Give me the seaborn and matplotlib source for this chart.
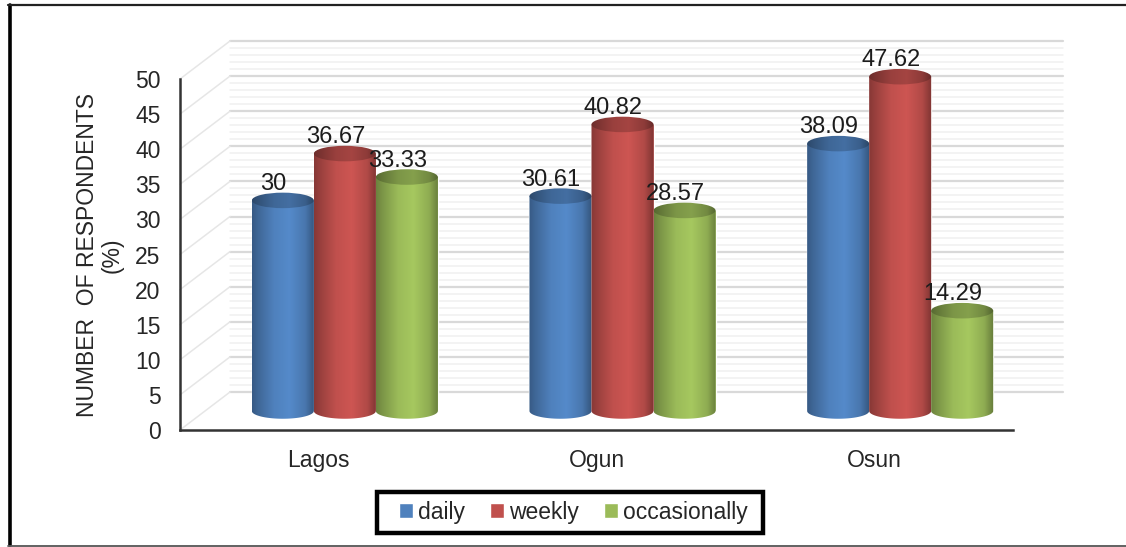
import numpy as np
import pandas as pd
import matplotlib
matplotlib.use("Agg")
import matplotlib.pyplot as plt
from matplotlib.colors import LinearSegmentedColormap, to_rgb
from matplotlib.patches import Ellipse, Polygon, Rectangle
from matplotlib.transforms import Affine2D, IdentityTransform
import seaborn as sns

states = ["Lagos", "Ogun", "Osun"]
frequency = ["daily", "weekly", "occasionally"]
daily = [30, 30.61, 38.09]
weekly = [36.67, 40.82, 47.62]
occasionally = [33.33, 28.57, 14.29]
palette = ["#4f81bd", "#c0504d", "#9bbb59"]

W, H = 1126, 547
FONT = 16.5
sns.set_theme(style="white")
plt.rcParams["font.family"] = ["Liberation Sans", "DejaVu Sans"]

table = pd.DataFrame({
    "state": states * 3,
    "frequency": np.repeat(frequency, 3),
    "percent": daily + weekly + occasionally,
})

fig = plt.figure(figsize=(W / 100, H / 100), dpi=100, facecolor="white")
ax = fig.add_axes([180 / W, 1 - 430 / H, 833 / W, 351 / H])

sns.barplot(data=table, x="state", y="percent", hue="frequency",
            order=states, hue_order=frequency, palette=palette, saturation=1,
            width=0.67, gap=0, errorbar=None, legend=True, ax=ax, zorder=3)
ax.set_ylim(0, 50)
ax.set_xlim(-0.5, 2.5)

# The chart is a pseudo-3D box: bars stand mid-way along the floor, the wall at the back.
mid_plane = ax.transData + Affine2D().translate(26, 19)
back_wall = ax.transData + Affine2D().translate(50, 38)

units_per_px = 50 / 351
cap_height = 15.5 * units_per_px


def rgb_scale(color, factor):
    return tuple(min(1, c * factor) for c in to_rgb(color))


def shaded(color, dim=1.0):
    stops = [(0.0, 0.7), (0.1, 0.8), (0.35, 1.0), (0.6, 1.07), (0.85, 0.92), (1.0, 0.66)]
    return LinearSegmentedColormap.from_list(
        "cyl", [(p, rgb_scale(color, f * dim)) for p, f in stops])


ramp = np.linspace(0, 1, 128).reshape(1, -1)

for level in range(0, 51):
    major = level % 5 == 0
    ax.plot([-0.5, 2.5], [level, level], transform=back_wall, clip_on=False, zorder=1,
            color="#d9d9d9" if major else "#f0f0f0", lw=1.6 if major else 1.1)
    if major:
        x0, y0 = ax.transData.transform((-0.5, level))
        ax.add_line(plt.Line2D([x0, x0 + 50], [y0, y0 + 38], transform=IdentityTransform(),
                               color="#e6e6e6", lw=1.1, zorder=1, clip_on=False))

bars = sorted(
    [p for p in ax.patches if isinstance(p, Rectangle) and p.get_height() > 0],
    key=lambda p: p.get_x(),
)
theta = np.linspace(np.pi, 2 * np.pi, 60)
for n, bar in enumerate(bars):
    x0, w, v = bar.get_x(), bar.get_width(), bar.get_height()
    colour = bar.get_facecolor()
    bar.set_transform(mid_plane)
    bar.set_clip_on(False)
    cx = x0 + w / 2
    rim_x = cx + w / 2 * np.cos(theta)
    rim_y = cap_height / 2 * np.sin(theta)
    outline = np.column_stack([np.r_[x0, rim_x, x0 + w], np.r_[v, rim_y, v]])
    clip = Polygon(outline, closed=True, transform=mid_plane)
    z = 4 + n * 0.01
    body = ax.imshow(ramp, extent=(x0, x0 + w, -cap_height, v), aspect="auto",
                     cmap=shaded(colour), transform=mid_plane, zorder=z,
                     interpolation="bilinear")
    body.set_clip_box(fig.bbox)
    body.set_clip_path(clip)
    cap = Ellipse((cx, v), w, cap_height, transform=mid_plane)
    top = ax.imshow(ramp, extent=(x0, x0 + w, v - cap_height, v + cap_height), aspect="auto",
                    cmap=shaded(colour, 0.8), transform=mid_plane, zorder=z + 0.001,
                    interpolation="bilinear")
    top.set_clip_box(fig.bbox)
    top.set_clip_path(cap)
    ax.annotate(f"{v:g}", (cx, v), xycoords=mid_plane, xytext=(-9.5, 16.5),
                textcoords="offset pixels", ha="center", va="center",
                fontsize=17, color="#1c1c1c", zorder=6, annotation_clip=False)

ax.set_xlim(-0.5, 2.5)
ax.set_ylim(0, 50)
ax.set_yticks(range(0, 51, 5))
ax.set_xlabel("")
ax.set_ylabel("NUMBER  OF RESPONDENTS\n(%)", fontsize=FONT, color="#262626",
              linespacing=1.08, va="center")
ax.yaxis.set_label_coords((99.5 - 180) / 833, (430 - 255) / 351)
ax.tick_params(axis="y", length=0, pad=14, labelsize=FONT, labelcolor="#262626")
ax.tick_params(axis="x", length=0, pad=14, labelsize=FONT, labelcolor="#262626")
for side in ("top", "right"):
    ax.spines[side].set_visible(False)
for side in ("left", "bottom"):
    ax.spines[side].set_color("#333333")
    ax.spines[side].set_linewidth(1.8)
ax.patch.set_alpha(0)

sns.move_legend(ax, "center", bbox_to_anchor=(573.5 / W, 1 - 512 / H),
                bbox_transform=fig.transFigure, ncol=3, title=None, frameon=False,
                fontsize=FONT, handlelength=0.62, handleheight=0.62, handletextpad=0.2,
                columnspacing=1.1, borderpad=0.42, borderaxespad=0)
for text in ax.get_legend().get_texts():
    text.set_color("#262626")

# Legend box, wider than the entries it holds.
fig.add_artist(Rectangle((377 / W, 1 - 532.5 / H), 385.5 / W, 41 / H, transform=fig.transFigure,
                         facecolor="none", edgecolor="black", lw=3.2))

# Outer frame running off the right edge of the figure.
fig.add_artist(plt.Line2D([9.5 / W, 9.5 / W], [1 - 5 / H, 1 - 545 / H], color="black", lw=2.6))
fig.add_artist(plt.Line2D([8 / W, 1], [1 - 5 / H, 1 - 5 / H], color="#222222", lw=1.6))
fig.add_artist(plt.Line2D([8 / W, 1], [1 - 545.5 / H, 1 - 545.5 / H], color="#555555", lw=1.3))

fig.savefig("out.png", dpi=100)
